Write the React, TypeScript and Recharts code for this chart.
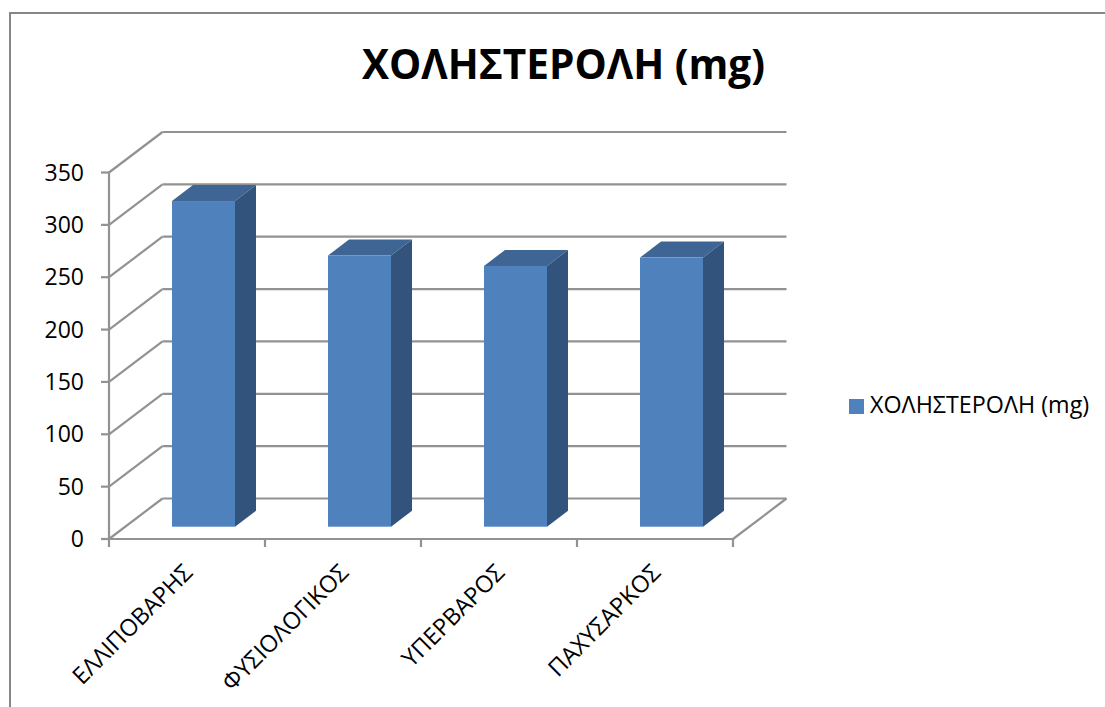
import { BarChart, Bar, XAxis, YAxis, CartesianGrid, Legend } from "recharts";

// Colesterol por categoria de peso, desenhado como coluna "3D" ao estilo do Excel.
const CATEGORIAS = ["ΕΛΛΙΠΟΒΑΡΗΣ", "ΦΥΣΙΟΛΟΓΙΚΟΣ", "ΥΠΕΡΒΑΡΟΣ", "ΠΑΧΥΣΑΡΚΟΣ"];
const COLESTEROL = [311, 259, 249, 257];
const TICKS_Y = [0, 50, 100, 150, 200, 250, 300, 350];
const SERIE = "ΧΟΛΗΣΤΕΡΟΛΗ (mg)";

const dados = CATEGORIAS.map((nome, i) => ({ nome, valor: COLESTEROL[i] }));

const LARGURA = 1105;
const ALTURA = 707;
const FONTE = "'Open Sans', sans-serif";
const CINZA = "#929292";

// profundidade da parede de fundo e recuo/profundidade das colunas
const PAREDE = { dx: 53.5, dy: -40.5 };
const RECUO = { dx: 16, dy: -12.3 };
const COLUNA = { dx: 21, dy: -16 };

const LARGURA_LEGENDA = 256;
const MARGEM = { top: 172.5, right: 372 - LARGURA_LEGENDA, bottom: 0, left: 0 };
const LARGURA_PLOT = 624;

function LinhaGrade(props: any) {
  const { x1, y1, x2, y2 } = props;
  const zero = y1 > 530;
  const xf = x1 + PAREDE.dx;
  const yf = y1 + PAREDE.dy;
  return (
    <g stroke={CINZA} strokeWidth={2.2} fill="none">
      <line x1={x1} y1={y1} x2={xf} y2={yf} />
      <line x1={xf} y1={yf} x2={x2 + PAREDE.dx} y2={yf} />
      {zero && <line x1={x2} y1={y2} x2={x2 + PAREDE.dx} y2={yf} />}
    </g>
  );
}

function Coluna3D(props: any) {
  const { x, y, width, height } = props;
  const cx = x + RECUO.dx;
  const cy = y + RECUO.dy;
  const { dx, dy } = COLUNA;
  return (
    <g>
      <polygon
        points={`${cx},${cy} ${cx + dx},${cy + dy} ${cx + width + dx},${cy + dy} ${cx + width},${cy}`}
        fill="#3e6593"
      />
      <polygon
        points={`${cx + width},${cy} ${cx + width + dx},${cy + dy} ${cx + width + dx},${cy + height + dy} ${cx + width},${cy + height}`}
        fill="#32547c"
      />
      <rect x={cx} y={cy} width={width} height={height} fill="#4f81bd" />
    </g>
  );
}

function TickCategoria(props: any) {
  const { x, y, index, payload } = props;
  const meia = LARGURA_PLOT / CATEGORIAS.length / 2;
  const topo = 539;
  return (
    <g>
      <line x1={x - meia} y1={topo} x2={x - meia} y2={topo + 8} stroke={CINZA} strokeWidth={2.2} />
      {index === CATEGORIAS.length - 1 && (
        <line x1={x + meia} y1={topo} x2={x + meia} y2={topo + 8} stroke={CINZA} strokeWidth={2.2} />
      )}
      <text
        x={x + 7}
        y={y + 27}
        textAnchor="end"
        fontFamily={FONTE}
        fontSize={23.5}
        fill="#000"
        transform={`rotate(-45 ${x + 7} ${y + 27})`}
      >
        {payload.value}
      </text>
    </g>
  );
}

export default function App() {
  return (
    <div style={{ position: "absolute", left: 0, top: 0, width: LARGURA, height: ALTURA, background: "#fff", overflow: "hidden" }}>
      <div
        style={{
          position: "absolute",
          left: 9,
          top: 12,
          width: LARGURA,
          height: ALTURA,
          borderLeft: "2px solid #868686",
          borderTop: "2px solid #868686",
        }}
      />
      <div
        style={{
          position: "absolute",
          left: 0,
          width: 1127,
          top: 39,
          textAlign: "center",
          fontFamily: FONTE,
          fontWeight: 700,
          fontSize: 40.6,
          lineHeight: "50px",
          color: "#000",
        }}
      >
        {SERIE}
      </div>
      <div style={{ position: "absolute", left: 0, top: 0 }}>
        <BarChart width={LARGURA} height={ALTURA} data={dados} margin={MARGEM} barSize={63}>
          <CartesianGrid vertical={false} horizontal={(p: any) => <LinhaGrade key={p.index} {...p} />} />
          <XAxis
            dataKey="nome"
            height={168}
            interval={0}
            tickLine={false}
            axisLine={{ stroke: CINZA, strokeWidth: 2.2 }}
            tick={<TickCategoria />}
          />
          <YAxis
            width={109}
            domain={[0, 350]}
            ticks={TICKS_Y}
            tickSize={8}
            tickMargin={17}
            interval={0}
            tickLine={{ stroke: CINZA, strokeWidth: 2.2 }}
            axisLine={{ stroke: CINZA, strokeWidth: 2.2 }}
            tick={{ fill: "#000", fontSize: 23, fontFamily: FONTE }}
          />
          <Legend
            layout="vertical"
            align="right"
            verticalAlign="middle"
            iconType="square"
            iconSize={15}
            width={LARGURA_LEGENDA}
            wrapperStyle={{ left: 849, top: 388, fontFamily: FONTE, fontSize: 23.3, whiteSpace: "nowrap" }}
            formatter={(v: string) => <span style={{ color: "#000", marginLeft: 2 }}>{v}</span>}
          />
          <Bar dataKey="valor" name={SERIE} fill="#4f81bd" shape={<Coluna3D />} isAnimationActive={false} />
        </BarChart>
      </div>
    </div>
  );
}
